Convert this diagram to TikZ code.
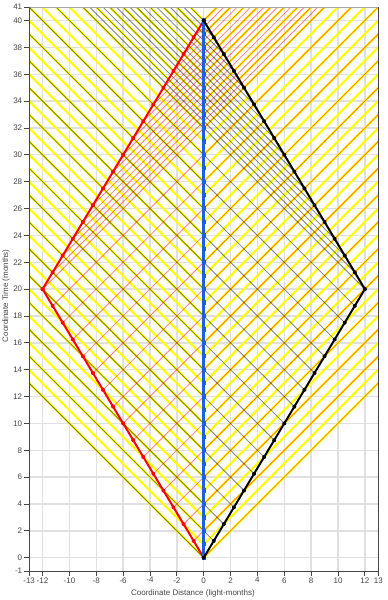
\documentclass[tikz,border=0pt]{standalone}
\usepackage{fontspec}
\setmainfont{Liberation Sans}
\usepackage{tikz}

\definecolor{sigyellow}{RGB}{255,255,0}
\definecolor{homeblue}{RGB}{30,95,225}
\definecolor{gridgray}{RGB}{224,224,224}
\definecolor{axisgray}{RGB}{70,70,70}

\begin{document}
\begin{tikzpicture}[x=10.07pt,y=10.07pt, font=\fontsize{6}{7}\selectfont,
  gridline/.style={gridgray, line width=1pt},
  homesig/.style={sigyellow, line width=1.6pt},
  blacksig/.style={black, opacity=0.5, line width=0.6pt},
  redsig/.style={red, opacity=0.5, line width=0.6pt},
  worldline/.style={line width=1.5pt},
  tickmark/.style={axisgray, line width=0.6pt}]
\useasboundingbox (-15.17,-3.15) rectangle (13.65,41.53);

% events of the trip
\coordinate (start) at (0,0);
\coordinate (meet) at (0,40);
\coordinate (farR) at (12,20);
\coordinate (farL) at (-12,20);

% grid
\foreach \x in {-12,-10,...,12} \draw[gridline] (\x,-1) -- (\x,41);
\foreach \y in {0,2,...,40} \draw[gridline] (-13,\y) -- (13,\y);

\begin{scope}
\clip (-13,-1) rectangle (13,41);
% light signals from home, one each month
\foreach \n in {0,...,40} {
  \draw[homesig] (0,\n) -- ++(-45,45);
  \draw[homesig] (0,\n) -- ++(45,45);
}
% signals of the travellers, one each month of their own time
\foreach \k in {0,...,15} {
  \draw[blacksig] (0.75*\k,1.25*\k) -- ++(-45,45);
  \draw[redsig] (-0.75*\k,1.25*\k) -- ++(45,45);
}
\foreach \k in {0,...,16} {
  \draw[blacksig] (12-0.75*\k,20+1.25*\k) -- ++(-45,45);
  \draw[redsig] (-12+0.75*\k,20+1.25*\k) -- ++(45,45);
}
\end{scope}

% world lines
\draw[worldline, red] (start) -- (farL) -- (meet);
\foreach \k in {0,...,16} {
  \fill[red] (-0.75*\k,1.25*\k) circle (1.5pt);
  \fill[red] (-12+0.75*\k,20+1.25*\k) circle (1.5pt);
}
\draw[homeblue, line width=2.2pt] (start) -- (meet);
\foreach \n in {0,...,40}
  \fill[homeblue] (0,\n) ++(-1.6pt,-1.6pt) rectangle ++(3.2pt,3.2pt);
\draw[worldline, black] (start) -- (farR) -- (meet);
\foreach \k in {0,...,16} {
  \fill[black] (0.75*\k,1.25*\k) circle (1.5pt);
  \fill[black] (12-0.75*\k,20+1.25*\k) circle (1.5pt);
}

% frame and axes
\draw[gray!70, line width=0.7pt] (-13,41) -- (13,41);
\draw[axisgray, line width=0.7pt] (13,41) -- (13,-1) -- (-13,-1) -- (-13,41);
\foreach \y in {-1,0,2,...,40,41} {
  \draw[tickmark] (-13,\y) -- (-13.35,\y);
  \node[anchor=east, inner sep=1pt, text=axisgray] (ty\y) at (-13.4,\y) {\y};
}
\foreach \x in {-13,-12,-10,...,12,13} {
  \draw[tickmark] (\x,-1) -- (\x,-1.35);
  \node[anchor=north, inner sep=0.5pt, text=axisgray] (tx\x) at (\x,-1.4) {\x};
}
\node[text=axisgray] (xtitle) at (-0.8,-2.65) {Coordinate Distance (light-months)};
\node[rotate=90, text=axisgray] (ytitle) at (-14.72,19.5) {Coordinate Time (months)};
\end{tikzpicture}
\end{document}
